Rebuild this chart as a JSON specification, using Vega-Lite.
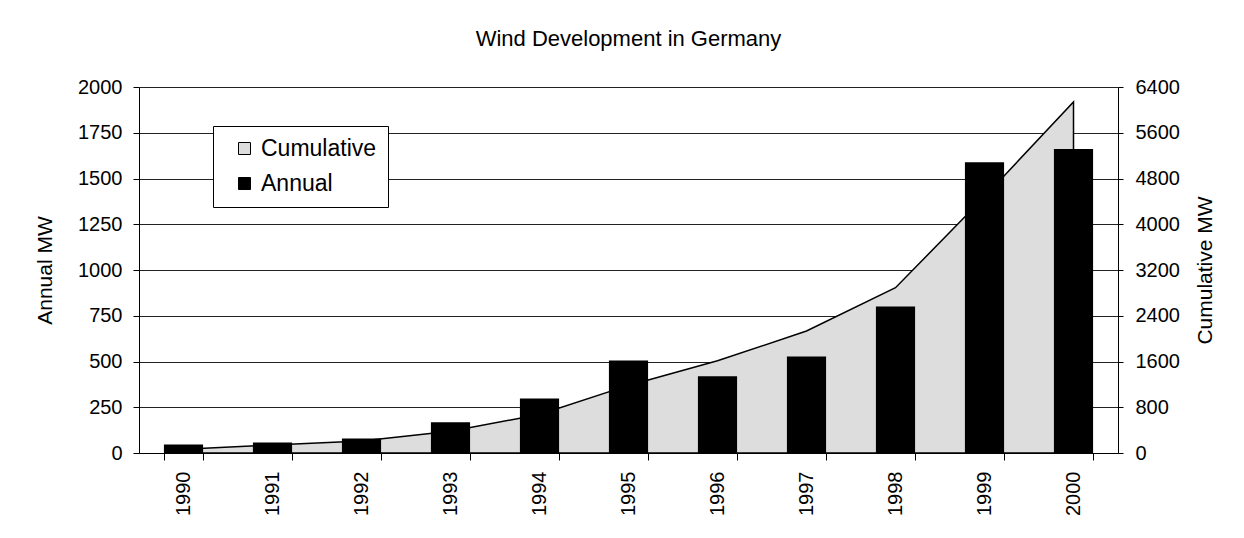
{
  "$schema": "https://vega.github.io/schema/vega-lite/v6.json",
  "autosize": "none",
  "width": 979,
  "height": 366,
  "padding": {"left": 139, "top": 87, "right": 126, "bottom": 85},
  "background": "white",
  "title": {
    "text": "Wind Development in Germany",
    "font": "Liberation Sans",
    "fontSize": 22,
    "fontWeight": "normal",
    "color": "black",
    "anchor": "middle",
    "offset": 26
  },
  "data": {
    "values": [
      {"year": "1990", "annual": 46, "cumulative": 65},
      {"year": "1991", "annual": 57, "cumulative": 140},
      {"year": "1992", "annual": 79, "cumulative": 210},
      {"year": "1993", "annual": 168, "cumulative": 380},
      {"year": "1994", "annual": 298, "cumulative": 673},
      {"year": "1995", "annual": 505, "cumulative": 1182},
      {"year": "1996", "annual": 419, "cumulative": 1612},
      {"year": "1997", "annual": 528, "cumulative": 2133},
      {"year": "1998", "annual": 801, "cumulative": 2890},
      {"year": "1999", "annual": 1589, "cumulative": 4480},
      {"year": "2000", "annual": 1661, "cumulative": 6140}
    ]
  },
  "encoding": {
    "x": {
      "field": "year",
      "type": "ordinal",
      "scale": {"paddingInner": 0.56, "paddingOuter": 0.28},
      "axis": {
        "title": null,
        "labelAngle": 270,
        "labelFontSize": 20,
        "labelPadding": 11,
        "tickSize": 7,
        "tickBand": "extent",
        "grid": false
      }
    }
  },
  "layer": [
    {
      "mark": {"type": "area", "stroke": "black", "strokeWidth": 1.5, "strokeJoin": "miter", "opacity": 1},
      "encoding": {
        "y": {
          "field": "cumulative",
          "type": "quantitative",
          "scale": {"domain": [0, 6400], "nice": false, "zero": true},
          "axis": {
            "orient": "right",
            "title": "Cumulative MW",
            "titleAngle": 270,
            "titlePadding": 36,
            "format": "d",
            "values": [0, 800, 1600, 2400, 3200, 4000, 4800, 5600, 6400],
            "labelFontSize": 20,
            "labelPadding": 12,
            "tickSize": 5,
            "grid": false
          }
        },
        "color": {
          "datum": "Cumulative",
          "type": "nominal",
          "scale": {"domain": ["Cumulative", "Annual"], "range": ["#dddddd", "#000000"]},
          "legend": {
            "title": null,
            "orient": "none",
            "legendX": 74,
            "legendY": 39,
            "direction": "vertical",
            "symbolType": "square",
            "symbolSize": 144,
            "symbolStrokeColor": "black",
            "symbolStrokeWidth": 1,
            "symbolOffset": 9,
            "labelOffset": 5,
            "labelFontSize": 23,
            "labelFont": "Liberation Sans",
            "labelColor": "black",
            "rowPadding": 11,
            "padding": 11,
            "fillColor": "white",
            "strokeColor": "black"
          }
        }
      }
    },
    {
      "mark": {"type": "bar"},
      "encoding": {
        "y": {
          "field": "annual",
          "type": "quantitative",
          "scale": {"domain": [0, 2000], "nice": false},
          "axis": {
            "orient": "left",
            "title": "Annual MW",
            "titleAngle": 270,
            "titlePadding": 22,
            "format": "d",
            "values": [0, 250, 500, 750, 1000, 1250, 1500, 1750, 2000],
            "labelFontSize": 20,
            "labelPadding": 11,
            "tickSize": 6,
            "grid": true,
            "gridColor": "#222222",
            "gridWidth": 1,
            "gridOpacity": 1
          }
        },
        "color": {"datum": "Annual", "type": "nominal"}
      }
    }
  ],
  "resolve": {"scale": {"y": "independent"}},
  "config": {
    "font": "Liberation Sans",
    "view": {"stroke": null},
    "axis": {
      "labelFont": "Liberation Sans",
      "titleFont": "Liberation Sans",
      "labelColor": "black",
      "titleColor": "black",
      "titleFontSize": 21,
      "titleFontWeight": "normal",
      "domainColor": "black",
      "domainWidth": 1,
      "tickColor": "black",
      "tickWidth": 1
    }
  }
}
